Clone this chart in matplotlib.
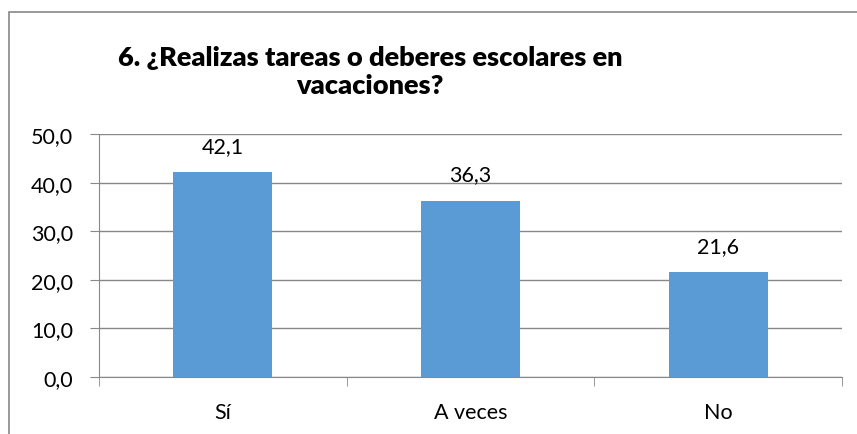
import matplotlib
matplotlib.use("Agg")
import matplotlib.pyplot as plt
from matplotlib.patches import Rectangle

categories = ["Sí", "A veces", "No"]
values = [42.1, 36.3, 21.6]
yticks = [0, 10, 20, 30, 40, 50]
title = "6. ¿Realizas tareas o deberes escolares en\nvacaciones?"

W, H = 857, 435
fig = plt.figure(figsize=(W/100, H/100), dpi=100)
fig.patch.set_facecolor("white")

# outer chart border
fig.add_artist(Rectangle((9/W, -0.1), 2, (1 - 13/H) + 0.1, transform=fig.transFigure,
                         fill=False, edgecolor="#888888", linewidth=1.2))

left, right, top, bottom = 99, 842, 135, 378
ax = fig.add_axes([left/W, 1 - bottom/H, (right-left)/W, (bottom-top)/H])

x = list(range(len(categories)))
ax.bar(x, values, width=0.4, color="#5B9BD5", zorder=3)
ax.set_xlim(-0.5, len(categories) - 0.5)
ax.set_ylim(0, 50)

font = ["Lato", "DejaVu Sans"]
fs = 15.5
ax.set_yticks(yticks)
ax.set_yticklabels([f"{v:.1f}".replace(".", ",") for v in yticks], fontsize=fs, family=font)
ax.set_xticks(x)
ax.set_xticklabels(categories, fontsize=fs, family=font)
ax.tick_params(axis="x", length=0, pad=18)
ax.tick_params(axis="y", length=6.5, color="#888888", pad=12)

# category boundary ticks
ax.set_xticks([-0.5, 0.5, 1.5, 2.5], minor=True)
ax.tick_params(axis="x", which="minor", length=6.5, color="#888888", direction="out")

ax.yaxis.grid(True, color="#888888", linewidth=1.0, zorder=0)
for s in ["top", "right"]:
    ax.spines[s].set_visible(False)
ax.spines["left"].set_color("#888888")
ax.spines["bottom"].set_color("#888888")

for xi, v in zip(x, values):
    ax.annotate(f"{v:.1f}".replace(".", ","), (xi, v), xytext=(0, 19), textcoords="offset points",
                ha="center", va="center", fontsize=fs, family=font)

fig.text(370/W, 1 - 72/H, title, ha="center", va="center", fontsize=19.5, fontweight="heavy",
         family=font, linespacing=1.2)

fig.savefig("out.png", dpi=100, facecolor="white")
